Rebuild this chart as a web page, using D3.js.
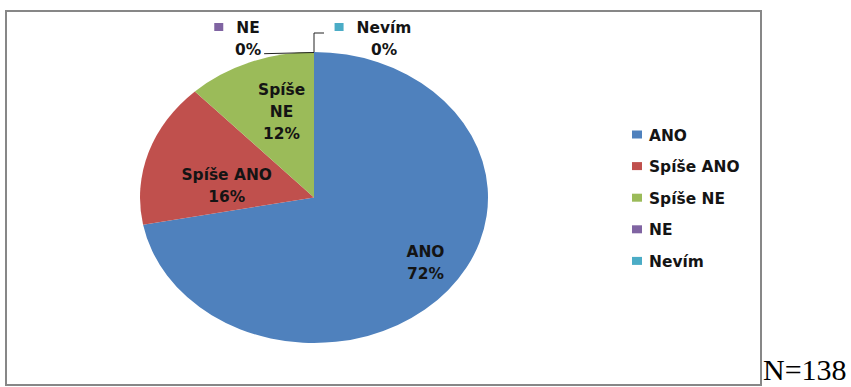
<!DOCTYPE html>
<html>
<head>
<meta charset="utf-8">
<script src="https://cdn.jsdelivr.net/npm/d3@7"></script>
<style>
  body { margin: 0; background: #fff; }
  text { font-family: "DejaVu Sans", Verdana, sans-serif; font-weight: bold; fill: #141414; }
</style>
</head>
<body>
<svg id="chart" width="851" height="387"></svg>
<script>
// Survey answers (share of respondents, %)
const categories = ["ANO", "Spíše ANO", "Spíše NE", "NE", "Nevím"];
const percents = [72, 16, 12, 0, 0];
const colors = ["#4F81BD", "#C0504D", "#9BBB59", "#8064A2", "#4BACC6"];
const sampleNote = "N=138";

const svg = d3.select("#chart");
const fontSize = 15;
const textStretch = 1.03;   // labels are drawn slightly wide

// frame around the chart area
svg.append("rect")
  .attr("x", 6).attr("y", 11).attr("width", 755).attr("height", 374)
  .attr("fill", "none").attr("stroke", "#878787").attr("stroke-width", 2);

// elliptical pie: a circular pie scaled horizontally
const cx = 314, cy = 197.5, rx = 174, ry = 145.5;
const data = categories.map((c, i) => ({ name: c, value: percents[i], color: colors[i], i }));
const pie = d3.pie().sort(null).value(d => d.value).startAngle(0).endAngle(2 * Math.PI);
const arcs = pie(data);
const arc = d3.arc().innerRadius(0).outerRadius(ry);

const pieG = svg.append("g")
  .attr("transform", `translate(${cx},${cy}) scale(${rx / ry},1)`);
pieG.selectAll("path")
  .data(arcs.filter(a => a.data.value > 0))
  .join("path")
  .attr("d", arc)
  .attr("fill", a => a.data.color);

// point on the ellipse for a given pie angle (0 = top, clockwise)
const onEllipse = (ang, f = 1) => [cx + Math.sin(ang) * rx * f, cy - Math.cos(ang) * ry * f];

function stretchedText(g, str, x, y, anchor) {
  return g.append("text")
    .attr("transform", `translate(${x},${y}) scale(${textStretch},1)`)
    .attr("text-anchor", anchor || "middle")
    .style("font-size", fontSize + "px")
    .text(str);
}

// labels inside the non-empty slices
const lineH = 22;
const labelNudge = [[31, 9], [12, 15], [6, -5]];
const wrapNames = new Set(["Spíše NE"]);
const labelG = svg.append("g");
arcs.forEach((a, k) => {
  if (a.data.value <= 0) return;
  const mid = (a.startAngle + a.endAngle) / 2;
  const [px, py] = onEllipse(mid, 0.6);
  const nudge = labelNudge[k] || [0, 0];
  const lines = (wrapNames.has(a.data.name) ? a.data.name.split(" ") : [a.data.name])
    .concat([a.data.value + "%"]);
  const x = px + nudge[0];
  const yc = py + nudge[1];
  const top = yc - (lines.length - 1) * lineH / 2 + fontSize * 0.36;
  lines.forEach((ln, j) => stretchedText(labelG, ln, x, top + j * lineH));
});

// empty slices: labels outside with legend key and leader line
const zeroArcs = arcs.filter(a => a.data.value <= 0);
zeroArcs.forEach((a, z) => {
  const [ax, ay] = onEllipse(a.startAngle);
  const side = z === 0 ? -1 : 1;
  const bx = ax + (side < 0 ? -66 : 70);
  const y1 = 33, y2 = 55;
  const t1 = stretchedText(labelG, a.data.name, bx, y1);
  const w1 = t1.node().getComputedTextLength() * textStretch;
  labelG.append("rect")
    .attr("x", bx - w1 / 2 - 22).attr("y", y1 - 10)
    .attr("width", 9).attr("height", 8)
    .attr("fill", a.data.color);
  const t2 = stretchedText(labelG, a.data.value + "%", bx, y2);
  const w2 = t2.node().getComputedTextLength() * textStretch;
  const pts = side < 0
    ? [[ax, ay + 0.5], [bx + w2 / 2 + 3, ay + 1.7]]
    : [[ax, ay], [ax, y1], [ax + 10, y1]];
  labelG.append("path")
    .attr("d", d3.line()(pts))
    .attr("fill", "none").attr("stroke", "#222").attr("stroke-width", 1);
});

// legend
const legendG = svg.append("g").attr("transform", "translate(632,134.5)");
data.forEach((d, i) => {
  const y = i * 31.6;
  legendG.append("rect").attr("x", 0).attr("y", y - 4).attr("width", 10).attr("height", 8).attr("fill", d.color);
  stretchedText(legendG, d.name, 17, y + 6, "start");
});

// sample size note
svg.append("text")
  .attr("x", 763).attr("y", 380)
  .style("font-family", "'Liberation Serif', 'Times New Roman', serif")
  .style("font-weight", "normal")
  .style("font-size", "30px")
  .style("fill", "#000")
  .text(sampleNote);
</script>
</body>
</html>
